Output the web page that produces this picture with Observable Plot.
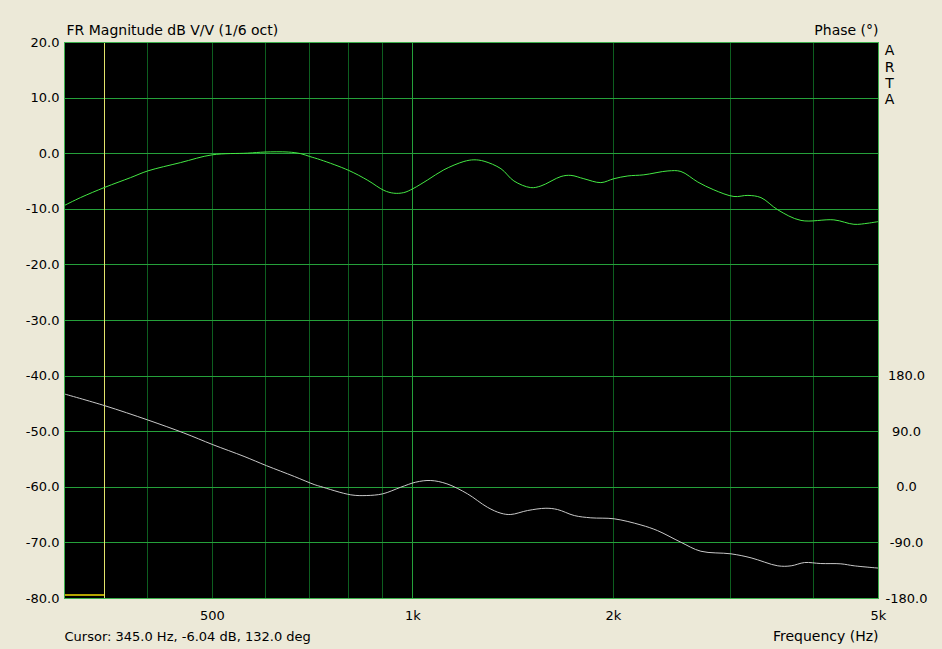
<!DOCTYPE html>
<html>
<head>
<meta charset="utf-8">
<script src="https://cdn.jsdelivr.net/npm/d3@7"></script>
<script src="https://cdn.jsdelivr.net/npm/@observablehq/plot@0.6"></script>
<style>
  html, body { margin: 0; padding: 0; background: #ECE9D8; }
  #chart { width: 942px; height: 649px; }
</style>
</head>
<body>
<div id="chart"></div>
<script>
// Magnitude response (dB)
const magFreq = [300, 317, 345, 377, 400, 448, 500, 565, 600, 650, 679, 700, 727, 801, 856, 905, 936, 969, 1000, 1053, 1113, 1193, 1235, 1279, 1356, 1418, 1503, 1557, 1669, 1727, 1806, 1915, 2003, 2103, 2222, 2415, 2526, 2678, 2830, 3034, 3184, 3331, 3531, 3825, 4286, 4593, 4822, 5000];
const magDb   = [-9.3, -7.9, -6.04, -4.3, -3.1, -1.6, -0.2, 0.1, 0.3, 0.3, 0.0, -0.5, -1.1, -3.0, -4.8, -6.6, -7.1, -7.0, -6.3, -4.7, -2.9, -1.4, -1.1, -1.35, -2.7, -4.9, -6.1, -5.8, -4.1, -3.9, -4.5, -5.2, -4.5, -4.0, -3.8, -3.1, -3.2, -5.1, -6.5, -7.7, -7.5, -7.9, -10.1, -12.0, -11.9, -12.7, -12.5, -12.2];

// Phase response (degrees)
const phaseFreq = [300, 345, 400, 453, 501, 558, 603, 664, 711, 727, 807, 853, 901, 959, 1010, 1064, 1125, 1208, 1294, 1356, 1403, 1487, 1584, 1649, 1747, 1850, 2005, 2200, 2328, 2526, 2706, 3003, 3219, 3530, 3697, 3873, 4096, 4390, 4597, 5000];
const phaseDeg  = [151, 132, 109, 88, 69, 50, 35, 17.5, 4.5, 1.3, -12.2, -13.3, -10.6, 0.1, 8.3, 11, 5.6, -10.6, -32.3, -42, -44, -37.6, -33.9, -36, -45.7, -49.4, -51, -61, -70, -89, -103.5, -107.7, -114.2, -127.1, -127.1, -121.8, -123.4, -123.9, -127.1, -130.8];

// Axes / ticks
const dbTicks = [20, 10, 0, -10, -20, -30, -40, -50, -60, -70, -80];
const phaseTicks = [180, 90, 0, -90, -180];
const freqTicks = [500, 1000, 2000, 5000];
const freqTickLabels = ["500", "1k", "2k", "5k"];
const minorFreqGrid = [400, 500, 600, 700, 800, 900, 2000, 3000, 4000];
const majorFreqGrid = [1000];
const cursorFreq = 345;
const cursorText = "Cursor: 345.0 Hz, -6.04 dB, 132.0 deg";

const mag = magFreq.map((f, i) => ({f, v: magDb[i]}));
const phase = phaseFreq.map((f, i) => ({f, v: phaseDeg[i]}));
const phaseToDb = p => p / 9 - 60; // 180° ↔ -40 dB, -180° ↔ -80 dB

const FONT = "DejaVu Sans";
const FS = 13;
const FT = 14;

const chart = Plot.plot({
  width: 942,
  height: 649,
  marginLeft: 64,
  marginRight: 64,
  marginTop: 42,
  marginBottom: 51,
  style: {background: "transparent", fontFamily: FONT, fontSize: FS + "px", color: "#000"},
  x: {type: "log", domain: [300, 5000], axis: null},
  y: {domain: [-80, 20], axis: null},
  marks: [
    Plot.frame({fill: "#000", stroke: null}),
    Plot.ruleX(minorFreqGrid, {stroke: "#0d5e1f", strokeWidth: 1, shapeRendering: "crispEdges"}),
    Plot.ruleY(dbTicks, {stroke: "#25a03a", strokeWidth: 1, shapeRendering: "crispEdges"}),
    Plot.ruleX(majorFreqGrid, {stroke: "#25a03a", strokeWidth: 1, shapeRendering: "crispEdges"}),
    Plot.ruleX([cursorFreq], {stroke: "#e2e26a", strokeWidth: 1, shapeRendering: "crispEdges"}),
    Plot.ruleY([-79.45], {x1: 300, x2: cursorFreq, stroke: "#b4a400", strokeWidth: 2, shapeRendering: "crispEdges"}),
    Plot.line(phase, {x: "f", y: d => phaseToDb(d.v), stroke: "#c8c8c8", strokeWidth: 1, curve: "catmull-rom"}),
    Plot.line(mag, {x: "f", y: "v", stroke: "#44e844", strokeWidth: 1, curve: "catmull-rom"}),
    Plot.frame({stroke: "#3cb04c", strokeWidth: 1}),
    // left axis labels
    Plot.text(dbTicks, {y: d => d, text: d => d.toFixed(1), frameAnchor: "left", dx: -5, textAnchor: "end", lineAnchor: "middle", fill: "#000", fontSize: FS}),
    // right axis labels (phase)
    Plot.text(phaseTicks, {y: p => phaseToDb(p), text: p => p.toFixed(1), frameAnchor: "right", dx: 28, textAnchor: "middle", lineAnchor: "middle", fill: "#000", fontSize: FS}),
    // x axis labels
    Plot.text(freqTicks, {x: d => d, text: (d, i) => freqTickLabels[i], frameAnchor: "bottom", dy: 17, textAnchor: "middle", lineAnchor: "middle", fill: "#000", fontSize: FS}),
    // titles
    Plot.text(["FR Magnitude dB V/V (1/6 oct)"], {frameAnchor: "top-left", dx: 2, dy: -12, textAnchor: "start", lineAnchor: "middle", fill: "#000", fontSize: FT}),
    Plot.text(["Phase (°)"], {frameAnchor: "top-right", dx: 0, dy: -12, textAnchor: "end", lineAnchor: "middle", fill: "#000", fontSize: FT}),
    Plot.text(["A\nR\nT\nA"], {frameAnchor: "top-right", dx: 11, dy: 1, lineAnchor: "top", lineHeight: 1.17, textAnchor: "middle", fill: "#000", fontSize: FT}),
    Plot.text([cursorText], {frameAnchor: "bottom-left", dy: 38, textAnchor: "start", lineAnchor: "middle", fill: "#000", fontSize: FS}),
    Plot.text(["Frequency (Hz)"], {frameAnchor: "bottom-right", dy: 38, textAnchor: "end", lineAnchor: "middle", fill: "#000", fontSize: FT})
  ]
});
document.getElementById("chart").appendChild(chart);
</script>
</body>
</html>
